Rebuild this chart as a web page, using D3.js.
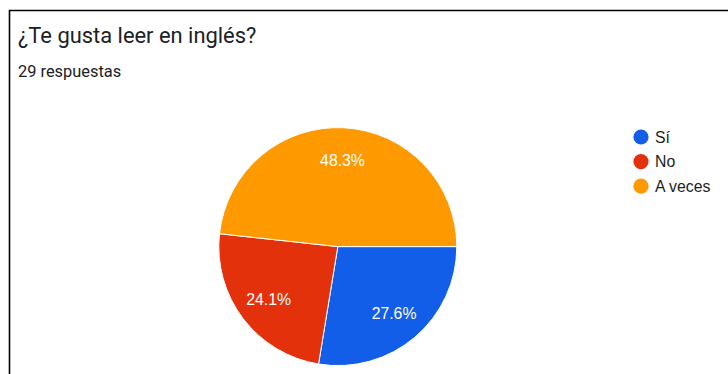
<!DOCTYPE html>
<html>
<head>
<meta charset="utf-8">
<script src="https://cdn.jsdelivr.net/npm/d3@7"></script>
<style>
  html, body { margin: 0; padding: 0; background: #fff; }
  svg { display: block; }
</style>
</head>
<body>
<svg id="chart" width="728" height="374"></svg>
<script>
// Survey answers: "¿Te gusta leer en inglés?"
const categories = ["Sí", "No", "A veces"];
const counts = [8, 7, 14];
const colors = ["#135ee8", "#e3310b", "#ff9900"];
const title = "¿Te gusta leer en inglés?";
const subtitle = "29 respuestas";

const svg = d3.select("#chart");
const total = d3.sum(counts);

// Card frame
svg.append("path")
  .attr("d", "M9.5,374 V10.5 H728")
  .attr("fill", "none")
  .attr("stroke", "#000")
  .attr("stroke-width", 1.6);

svg.append("text")
  .attr("x", 18).attr("y", 43)
  .attr("font-family", "Roboto, Arial, sans-serif")
  .attr("font-size", 21.9)
  .attr("fill", "#202124")
  .text(title);

svg.append("text")
  .attr("x", 18).attr("y", 77)
  .attr("font-family", "Roboto, Arial, sans-serif")
  .attr("font-size", 16.4)
  .attr("fill", "#202124")
  .text(subtitle);

// Pie starts at 3 o'clock and runs clockwise
const cx = 337.8, cy = 246.6, r = 119;
const data = categories.map((c, i) => ({ cat: c, value: counts[i], color: colors[i] }));
const pie = d3.pie().sort(null).value(d => d.value)
  .startAngle(Math.PI / 2).endAngle(Math.PI / 2 + 2 * Math.PI);
const arcs = pie(data);
const arc = d3.arc().innerRadius(0).outerRadius(r);
const labelArc = d3.arc().innerRadius(r * 0.73).outerRadius(r * 0.73);

const g = svg.append("g").attr("transform", `translate(${cx},${cy})`);
g.selectAll("path.slice").data(arcs).join("path")
  .attr("class", "slice")
  .attr("d", arc)
  .attr("fill", d => d.data.color)
  .attr("stroke", "#fff")
  .attr("stroke-width", 1);

g.selectAll("text.pct").data(arcs).join("text")
  .attr("class", "pct")
  .attr("transform", d => `translate(${labelArc.centroid(d)})`)
  .attr("text-anchor", "middle")
  .attr("dy", "0.36em")
  .attr("font-family", "Arial, 'Liberation Sans', sans-serif")
  .attr("font-size", 15.8)
  .attr("fill", "#fff")
  .text(d => (d.data.value / total * 100).toFixed(1) + "%");

// Legend
const legend = svg.append("g").attr("transform", "translate(641,137)");
const item = legend.selectAll("g").data(data).join("g")
  .attr("transform", (d, i) => `translate(0,${i * 24.6})`);
item.append("circle").attr("r", 7.6).attr("fill", d => d.color);
item.append("text")
  .attr("x", 14).attr("dy", "0.36em")
  .attr("font-family", "Arial, 'Liberation Sans', sans-serif")
  .attr("font-size", 15.8)
  .attr("fill", "#222")
  .text(d => d.cat);
</script>
</body>
</html>
